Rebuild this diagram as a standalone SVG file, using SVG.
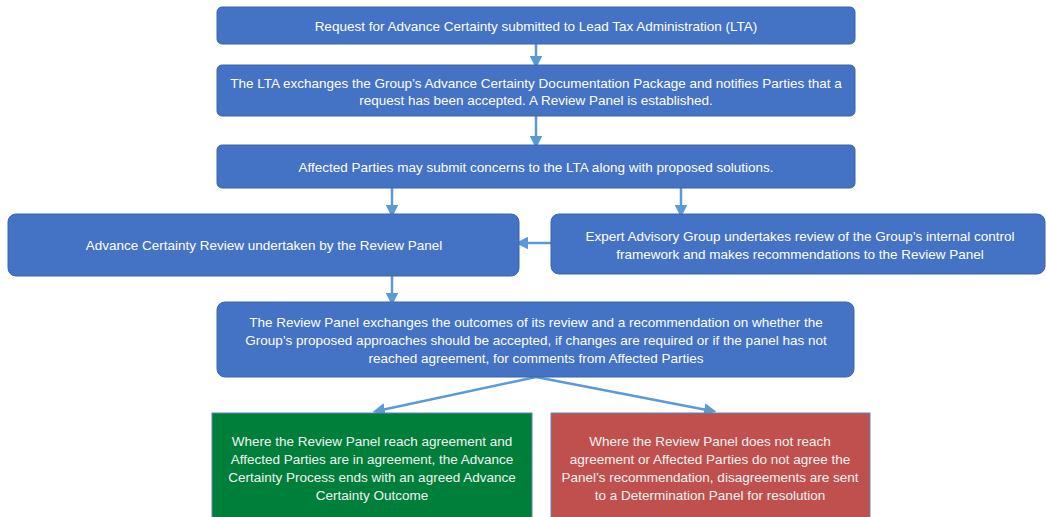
<svg xmlns="http://www.w3.org/2000/svg" width="1047" height="517" viewBox="0 0 1047 517">
<defs>
<style>
.box{fill:#4472C4;stroke:#3A64AE;stroke-width:1}
.green{fill:#007F3A;stroke:#5A86B8;stroke-width:1}
.red{fill:#C0504D;stroke:#5A86B8;stroke-width:1}
.t{font-family:"Liberation Sans",Arial,sans-serif;font-size:13.5px;fill:#FFFFFF;text-anchor:middle}
.tb{font-family:"Liberation Sans",Arial,sans-serif;font-size:13.5px;fill:#F2F2F2;text-anchor:middle}
.c{stroke:#5B9BD5;stroke-width:2.5;fill:none;marker-end:url(#ah)}
</style>
<marker id="ah" markerWidth="5" markerHeight="5" refX="3.2" refY="2.5" orient="auto" markerUnits="strokeWidth" viewBox="0 0 5 5">
<path d="M0,0 L5,2.5 L0,5 z" fill="#5B9BD5"/>
</marker>
</defs>
<rect width="1047" height="517" fill="#FFFFFF"/>
<g id="connectors">
<line class="c" x1="536" y1="44" x2="536" y2="64"/>
<line class="c" x1="536" y1="116" x2="536" y2="144"/>
<line class="c" x1="392" y1="188" x2="392" y2="213"/>
<line class="c" x1="681" y1="188" x2="681" y2="213"/>
<line class="c" x1="551" y1="243" x2="520" y2="243"/>
<line class="c" x1="392" y1="276" x2="392" y2="301"/>
<line class="c" x1="536" y1="377" x2="377" y2="411"/>
<line class="c" x1="536" y1="377" x2="712" y2="411"/>
</g>
<g id="n1">
<rect class="box" x="217" y="7" width="638" height="37" rx="5"/>
<text class="t" x="536" y="30.5">Request for Advance Certainty submitted to Lead Tax Administration (LTA)</text>
</g>
<g id="n2">
<rect class="box" x="217" y="65" width="638" height="51" rx="5"/>
<text class="t" x="536" y="88">The LTA exchanges the Group’s Advance Certainty Documentation Package and notifies Parties that a</text>
<text class="t" x="536" y="105">request has been accepted. A Review Panel is established.</text>
</g>
<g id="n3">
<rect class="box" x="217" y="145" width="638" height="43" rx="5"/>
<text class="t" x="536" y="171.5">Affected Parties may submit concerns to the LTA along with proposed solutions.</text>
</g>
<g id="n4">
<rect class="box" x="8" y="214" width="511" height="62" rx="8"/>
<text class="t" x="264" y="249.5">Advance Certainty Review undertaken by the Review Panel</text>
</g>
<g id="n5">
<rect class="box" x="551" y="214" width="494" height="60" rx="8"/>
<text class="t" x="800" y="240.5">Expert Advisory Group undertakes review of the Group’s internal control</text>
<text class="t" x="800" y="258.5">framework and makes recommendations to the Review Panel</text>
</g>
<g id="n6">
<rect class="box" x="217" y="302" width="637" height="75" rx="8"/>
<text class="t" x="536" y="326.5">The Review Panel exchanges the outcomes of its review and a recommendation on whether the</text>
<text class="t" x="536" y="344.5">Group’s proposed approaches should be accepted, if changes are required or if the panel has not</text>
<text class="t" x="536" y="362.5">reached agreement, for comments from Affected Parties</text>
</g>
<g id="n7">
<rect class="green" x="212" y="413" width="320" height="110"/>
<text class="tb" x="372" y="445.5">Where the Review Panel reach agreement and</text>
<text class="tb" x="372" y="463.5">Affected Parties are in agreement, the Advance</text>
<text class="tb" x="372" y="481.5">Certainty Process ends with an agreed Advance</text>
<text class="tb" x="372" y="499.5">Certainty Outcome</text>
</g>
<g id="n8">
<rect class="red" x="551" y="413" width="319" height="110"/>
<text class="tb" x="710" y="445.5">Where the Review Panel does not reach</text>
<text class="tb" x="710" y="463.5">agreement or Affected Parties do not agree the</text>
<text class="tb" x="710" y="481.5">Panel’s recommendation, disagreements are sent</text>
<text class="tb" x="710" y="499.5">to a Determination Panel for resolution</text>
</g>
</svg>
